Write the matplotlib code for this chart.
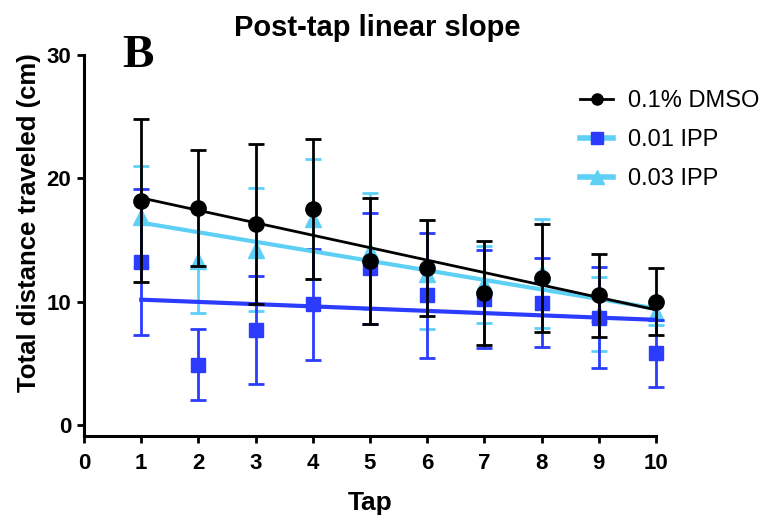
import numpy as np
import matplotlib.pyplot as plt

plt.rcParams['font.family'] = ['Liberation Sans', 'DejaVu Sans']

# data
taps = np.arange(1, 11)
dmso_mean = [18.2, 17.6, 16.3, 17.5, 13.3, 12.7, 10.7, 11.9, 10.5, 10.0]
dmso_err = [6.6, 4.7, 6.5, 5.7, 5.1, 3.9, 4.2, 4.4, 3.4, 2.7]
ipp01_mean = [13.2, 4.9, 7.7, 9.8, 12.7, 10.5, 10.2, 9.9, 8.7, 5.8]
ipp01_err = [5.9, 2.9, 4.4, 4.5, 4.5, 5.1, 4.0, 3.6, 4.1, 2.7]
ipp03_mean = [16.9, 13.3, 14.2, 16.7, 14.1, 12.2, 11.4, 12.3, 9.0, 9.1]
ipp03_err = [4.1, 4.2, 5.0, 4.9, 4.7, 4.4, 3.1, 4.4, 3.0, 1.0]

c_black = 'black'
c_blue = '#2b3cff'
c_light = '#5fd0f5'

fig = plt.figure(figsize=(7.67, 5.16), dpi=100)
ax = fig.add_axes([0.1095, 0.155, 0.7458, 0.7384])

# error bars + markers (light first so black sits on top)
conts = []
conts.append(ax.errorbar(taps, ipp03_mean, yerr=ipp03_err, fmt='^', color=c_light, ms=11,
                         elinewidth=2, capsize=6, capthick=2, zorder=3))
conts.append(ax.errorbar(taps, ipp01_mean, yerr=ipp01_err, fmt='s', color=c_blue, ms=10,
                         elinewidth=2, capsize=6, capthick=2, zorder=4))
conts.append(ax.errorbar(taps, dmso_mean, yerr=dmso_err, fmt='o', color=c_black, ms=11,
                         elinewidth=2, capsize=6, capthick=2, zorder=5))
for c in conts:
    for a in c.get_children():
        a.set_clip_on(False)

# linear fits
xx = np.array([1, 10])
for m, col, lw in [(ipp03_mean, c_light, 3), (ipp01_mean, c_blue, 3), (dmso_mean, c_black, 2)]:
    p = np.polyfit(taps, m, 1)
    ax.plot(xx, np.polyval(p, xx), color=col, lw=lw, zorder=4.5, clip_on=False)

# legend handles
h1, = ax.plot([], [], color=c_black, lw=2, marker='o', ms=8)
h2, = ax.plot([], [], color=c_light, lw=4, marker='s', ms=9, mfc=c_blue, mec=c_blue)
h3, = ax.plot([], [], color=c_light, lw=4, marker='^', ms=10)
ax.legend([h1, h2, h3], ['0.1% DMSO', '0.01 IPP', '0.03 IPP'], frameon=False,
          fontsize=17, loc='upper left', bbox_to_anchor=(580 / 767, 1 - 90 / 516),
          bbox_transform=fig.transFigure, borderpad=0, borderaxespad=0,
          handlelength=1.4, handletextpad=0.65, labelspacing=0.72)

ax.set_xlim(0, 10)
ax.set_ylim(-0.9, 30)
ax.set_xticks(range(0, 11))
ax.set_yticks([0, 10, 20, 30])
for s in ['top', 'right']:
    ax.spines[s].set_visible(False)
for s in ['left', 'bottom']:
    ax.spines[s].set_linewidth(2.2)
ax.tick_params(width=2, length=5, labelsize=16, pad=4)
ax.tick_params(axis='x', pad=7)
for lab in ax.get_xticklabels() + ax.get_yticklabels():
    lab.set_fontweight('bold')

ax.set_xlabel('Tap', fontsize=19, fontweight='bold')
ax.xaxis.set_label_coords(0.5, -0.145)
ax.set_ylabel('Total distance traveled (cm)', fontsize=18.5, fontweight='bold')
ax.yaxis.set_label_coords(-0.075, 0.56)
ax.set_title('Post-tap linear slope', fontsize=21, fontweight='bold', pad=14, x=0.513)
fig.text(122 / 767, 1 - 67 / 516, 'B', family='Liberation Serif', fontsize=34, fontweight='bold')

fig.savefig('out.png', dpi=100)
